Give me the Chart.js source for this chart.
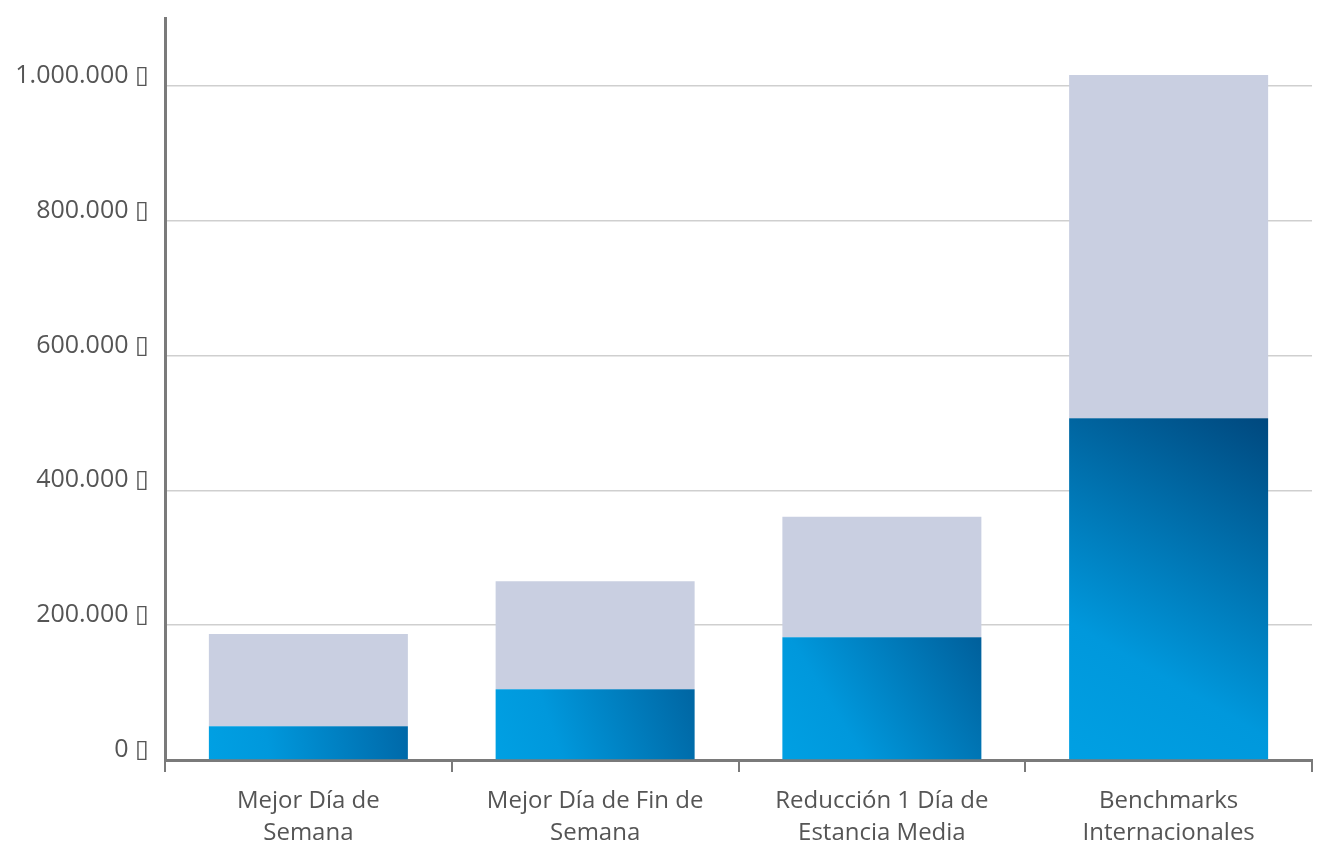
<!DOCTYPE html>
<html>
<head>
<meta charset="utf-8">
<script src="https://cdn.jsdelivr.net/npm/chart.js@4/dist/chart.umd.min.js"></script>
<style>
  html, body { margin: 0; padding: 0; background: #fff; }
  #wrap { width: 1323px; height: 843px; }
</style>
</head>
<body>
<div id="wrap"><canvas id="chart"></canvas></div>
<script>
const categories = [
    ['Mejor Día de', 'Semana'],
    ['Mejor Día de Fin de', 'Semana'],
    ['Reducción 1 Día de', 'Estancia Media'],
    ['Benchmarks', 'Internacionales'],
];
const base_values = [50000, 105000, 182000, 507000];
const extra_values = [137000, 160000, 179000, 509000];
const y_ticks = [0, 200000, 400000, 600000, 800000, 1000000];
const y_max = 1100000;
const currency = '\u25AF';

const fmt = v => v.toLocaleString('de-DE') + ' ' + currency;

const mix = (a, b, t) => {
    const pa = [1, 3, 5].map(i => parseInt(a.substr(i, 2), 16));
    const pb = [1, 3, 5].map(i => parseInt(b.substr(i, 2), 16));
    return 'rgb(' + pa.map((c, i) => Math.round(c + (pb[i] - c) * t)).join(',') + ')';
};

// diagonal blue gradient per bar, darker towards the top right
const blue_gradient = {
    id: 'blue_gradient',
    beforeDatasetsDraw(chart) {
        const meta = chart.getDatasetMeta(0);
        const full = chart.chartArea.bottom - chart.chartArea.top;
        meta.data.forEach(bar => {
            const { x, y, base, width } = bar.getProps(['x', 'y', 'base', 'width'], true);
            if (![x, y, base, width].every(Number.isFinite)) return;
            const left = x - width / 2, right = x + width / 2;
            const h = (base - y) / full;
            const g = chart.ctx.createLinearGradient(left, base, right, y);
            g.addColorStop(0, '#00A0E3');
            g.addColorStop(0.3, '#0098DC');
            g.addColorStop(1, mix('#006CAC', '#00487E', Math.min(1, h * 2.2)));
            bar.options = Object.assign({}, bar.options, { backgroundColor: g });
        });
    },
};

const font_family = "'Open Sans', 'Noto Sans', sans-serif";

new Chart(document.getElementById('chart'), {
    type: 'bar',
    data: {
        labels: categories,
        datasets: [
            {
                data: base_values,
                backgroundColor: () => '#009FE3',
                borderWidth: 0,
                barPercentage: 0.694,
                categoryPercentage: 1,
            },
            {
                data: extra_values,
                backgroundColor: '#C9CFE1',
                borderWidth: 0,
                barPercentage: 0.694,
                categoryPercentage: 1,
            },
        ],
    },
    options: {
        responsive: true,
        maintainAspectRatio: false,
        animation: false,
        layout: { padding: { top: 0, right: 11, left: 0, bottom: 0 } },
        plugins: {
            legend: { display: false },
            tooltip: { enabled: false },
        },
        scales: {
            x: {
                stacked: true,
                offset: true,
                grid: {
                    offset: true,
                    drawOnChartArea: false,
                    drawTicks: true,
                    tickLength: 12,
                    color: '#7a7a7a',
                    lineWidth: 2,
                },
                border: { color: '#7a7a7a', width: 3 },
                ticks: {
                    color: '#555',
                    font: { family: font_family, size: 24, lineHeight: 1.3 },
                    padding: 14,
                    maxRotation: 0,
                    autoSkip: false,
                },
                afterFit: axis => { axis.height = 83; },
            },
            y: {
                stacked: true,
                min: 0,
                max: y_max,
                afterBuildTicks: axis => {
                    axis.ticks = y_ticks.map(v => ({ value: v }));
                },
                grid: {
                    color: '#cfcfcf',
                    lineWidth: 1.5,
                    drawTicks: false,
                },
                border: { color: '#7a7a7a', width: 3 },
                ticks: {
                    color: '#555',
                    font: { family: font_family, size: 25, lineHeight: 0.2 },
                    padding: 16,
                    labelOffset: -10,
                    autoSkip: false,
                    callback: v => fmt(v),
                },
                afterFit: axis => { axis.width = 165; },
            },
        },
    },
    plugins: [blue_gradient],
});
</script>
</body>
</html>
